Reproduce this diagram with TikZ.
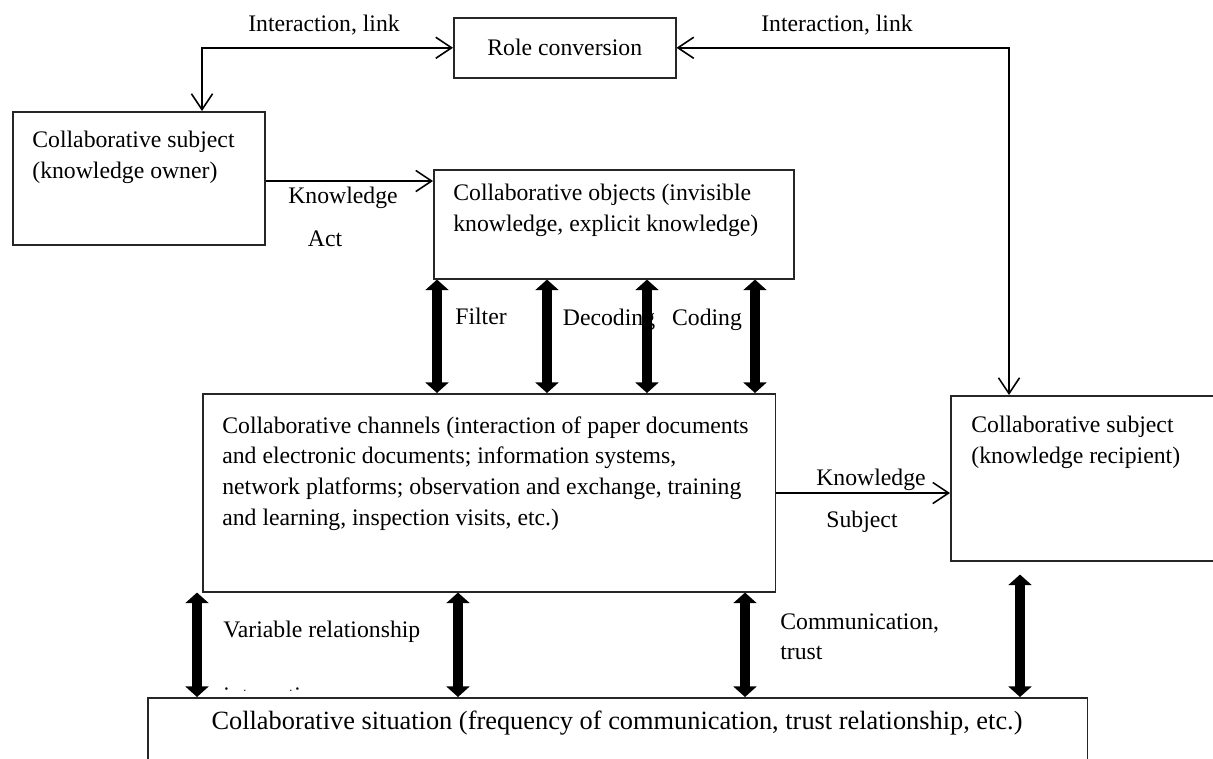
\documentclass[tikz,border=0pt]{standalone}
\usepackage{fontspec}
\setmainfont{Liberation Serif}
\usetikzlibrary{arrows.meta}
\begin{document}
\begin{tikzpicture}[x=0.02cm,y=-0.02cm,
  box/.style={draw=black!85, line width=0.9pt, anchor=north west, inner sep=0pt, fill=white},
  txt/.style={anchor=north west, inner sep=0pt, align=left, font=\fontsize{13.5}{17.6}\selectfont},
  lbl/.style={inner sep=0pt, font=\fontsize{13.5}{17.6}\selectfont},
  barb/.style={line width=0.9pt},
  thinarrow/.style={barb, -{Straight Barb[length=9pt,width=12pt]}},
  dblthin/.style={barb, {Straight Barb[length=9pt,width=12pt]}-{Straight Barb[length=9pt,width=12pt]}},
  thickarrow/.style={line width=5.5pt, {Triangle[width=13pt,length=6pt]}-{Triangle[width=13pt,length=6pt]}},
]
\useasboundingbox (0,0) rectangle (1213,758);
\clip (0,0) rectangle (1213,758);

% hidden label, mostly cut away
\begin{scope}
\clip (0,0) rectangle (1213,690);
\node[lbl, anchor=base west] (hid) at (223,703.5) {interaction};
\end{scope}

% boxes
\node[box, minimum width=4.44cm, minimum height=1.2cm, font=\fontsize{13.5}{17.6}\selectfont] (role) at (453,17) {Role conversion};
\node[box, minimum width=5.04cm, minimum height=2.66cm] (owner) at (12,111) {};
\node[box, minimum width=7.2cm, minimum height=2.18cm] (objects) at (433,169) {};
\node[box, minimum width=11.46cm, minimum height=3.96cm] (channel) at (202,393) {};
\node[box, minimum width=6cm, minimum height=3.3cm] (rec) at (950,395) {};
\node[box, minimum width=18.8cm, minimum height=2cm] (sit) at (147,697) {};

% box texts
\node[txt] (ownert) at (32,131) {Collaborative subject\\(knowledge owner)};
\node[txt] (objt) at (453,184) {Collaborative objects (invisible\\knowledge, explicit knowledge)};
\node[txt] (chant) at (222,416) {Collaborative channels (interaction of paper documents\\and electronic documents; information systems,\\network platforms; observation and exchange, training\\and learning, inspection visits, etc.)};
\node[txt] (rect) at (971,416) {Collaborative subject\\(knowledge recipient)};
\node[inner sep=0pt, font=\fontsize{15}{18}\selectfont] (sitt) at (617,723) {Collaborative situation (frequency of communication, trust relationship, etc.)};

% labels
\node[lbl] (il1) at (324,25) {Interaction, link};
\node[lbl] (il2) at (837,25) {Interaction, link};
\node[lbl] (k1) at (343,198) {Knowledge};
\node[lbl] (a1) at (325,239) {Act};
\node[lbl] (filt) at (481,316) {Filter};
\node[lbl] (dec) at (609,320) {Decoding};
\node[lbl] (cod) at (707,320) {Coding};
\node[lbl] (k2) at (871,480) {Knowledge};
\node[lbl] (s2) at (862,522) {Subject};
\node[lbl, anchor=west] (var) at (223,632) {Variable relationship};
\node[lbl, anchor=west, align=left, font=\fontsize{13.5}{17}\selectfont] (comm) at (780,637) {Communication,\\trust};

% helper x positions
\coordinate (x1) at (437,0);
\coordinate (x2) at (547,0);
\coordinate (x3) at (647,0);
\coordinate (x4) at (755,0);
\coordinate (y1) at (197,0);
\coordinate (y2) at (458,0);
\coordinate (y3) at (745,0);
\coordinate (y4) at (1020,0);
\coordinate (lx) at (202,0);
\coordinate (rx) at (1009,0);

% thin connectors
\draw[dblthin] (role.west) -| (owner.north -| lx);
\draw[dblthin] (role.east) -| (rec.north -| rx);
\draw[thinarrow] (owner.east |- 0,181) -- (objects.west |- 0,181);
\draw[thinarrow] (channel.east |- 0,493) -- (rec.west |- 0,493);

% thick arrows objects <-> channel
\foreach \c in {x1,x2,x3,x4}
  \draw[thickarrow] (objects.south -| \c) -- (channel.north -| \c);

% thick arrows to situation
\foreach \c in {y1,y2,y3}
  \draw[thickarrow] (channel.south -| \c) -- (sit.north -| \c);
\draw[thickarrow, shorten <=0.26cm] (rec.south -| y4) -- (sit.north -| y4);

\end{tikzpicture}
\end{document}
